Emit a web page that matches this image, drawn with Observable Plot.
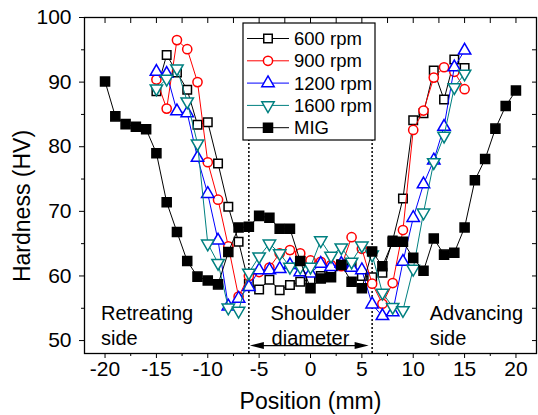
<!DOCTYPE html>
<html><head><meta charset="utf-8">
<script src="https://cdn.jsdelivr.net/npm/d3@7"></script>
<script src="https://cdn.jsdelivr.net/npm/@observablehq/plot@0.6"></script>
<style>
body{margin:0;background:#fff;}
#chart svg{font-family:"Liberation Sans",Arial,sans-serif;}
</style>
</head><body><div id="chart"></div>
<script>
// ---- data ----
const fswPositions = [-15,-14,-13,-12,-11,-10,-9,-8,-7,-6,-5,-4,-3,-2,-1,0,1,2,3,4,5,6,7,8,9,10,11,12,13,14,15];
const rpm600  = [88.6,94.2,91.5,88.8,83.4,83.8,77.4,70.7,65.3,58.8,57.9,59.4,57.8,58.6,59.1,59.5,60.0,60.8,61.8,61.5,60.0,59.8,60.5,65.5,72.0,84.1,85.2,91.8,87.3,93.5,92.2];
const rpm900  = [90.4,85.9,96.5,95.1,90.0,77.6,71.8,64.6,56.8,60.0,60.6,61.3,63.5,64.0,63.5,62.4,62.2,61.7,61.5,66.0,64.2,58.8,55.7,58.9,67.1,82.6,85.6,90.7,92.3,91.6,88.9];
const rpm1200 = [91.6,91.3,85.5,85.2,78.3,72.7,65.5,55.3,56.5,58.3,60.9,60.9,61.1,61.7,60.6,60.4,61.9,61.4,61.9,61.3,60.9,55.6,53.8,54.4,62.2,69.0,74.2,77.9,83.1,92.3,94.9];
const rpm1600 = [89.0,90.5,92.1,87.0,80.5,65.0,62.0,55.1,54.6,60.5,63.0,65.0,63.5,61.4,61.4,61.4,65.5,63.1,64.4,62.2,64.7,63.3,57.4,55.2,54.7,61.1,69.8,77.6,81.7,89.2,91.3];
const migPositions = [-20,-19,-18,-17,-16,-15,-14,-13,-12,-11,-10,-9,-8,-7,-6,-5,-4,-3,-2,-1,0,1,2,3,4,5,6,7,8,9,10,11,12,13,14,15,16,17,18,19,20];
const mig = [90.1,84.7,83.5,83.1,82.7,79.0,71.4,66.8,62.3,59.9,59.3,58.7,63.7,67.5,67.6,69.3,69.0,67.3,67.3,62.3,58.1,59.6,59.8,61.7,59.1,58.1,63.8,61.5,65.3,65.3,62.8,60.8,65.8,63.3,63.6,67.5,74.8,78.1,82.8,86.3,88.7];
const seriesNames = ["600 rpm","900 rpm","1200 rpm","1600 rpm","MIG"];
const shoulderEdges = [-6, 6];
const xTicks = [-20,-15,-10,-5,0,5,10,15,20];
const yTicks = [50,60,70,80,90,100];
const zoneLabels = ["Retreating\nside","Shoulder\ndiameter","Advancing\nside"];
const xLabel = "Position (mm)";
const yLabel = "Hardness (HV)";

// ---- styles ----
const styles = [
  {stroke:"#000000", symbol:"square",   fill:"white", r:4.8, rotate:0},
  {stroke:"#ff0000", symbol:"circle",   fill:"white", r:4.6, rotate:0},
  {stroke:"#0000ff", symbol:"triangle", fill:"white", r:4.6, rotate:0},
  {stroke:"#008080", symbol:"triangle", fill:"white", r:4.6, rotate:180},
  {stroke:"#000000", symbol:"square",   fill:"#000000", r:5.1, rotate:0}
];
const seriesData = [rpm600, rpm900, rpm1200, rpm1600].map((vals, k) =>
  fswPositions.map((x, i) => ({x, y: vals[i], s: seriesNames[k]})));
seriesData.push(migPositions.map((x, i) => ({x, y: mig[i], s: "MIG"})));

const seriesMarks = [];
seriesData.forEach((d, k) => {
  const st = styles[k];
  seriesMarks.push(Plot.line(d, {x:"x", y:"y", stroke: st.stroke, strokeWidth: 1}));
  seriesMarks.push(Plot.dot(d, {x:"x", y:"y", symbol: st.symbol, r: st.r, stroke: st.stroke,
    fill: st.fill, strokeWidth: 1.5, rotate: st.rotate}));
});

const minorX = [];
for (let i = 0; i < xTicks.length - 1; i++) minorX.push((xTicks[i] + xTicks[i+1]) / 2);
const allX = xTicks.concat(minorX);
const minorY = [];
for (let i = 0; i < yTicks.length - 1; i++) minorY.push((yTicks[i] + yTicks[i+1]) / 2);
const allY = yTicks.concat(minorY);

// legend rendered in pixels inside the frame
function legend(index, scales, values, dims) {
  const g = d3.create("svg:g");
  const bx = 243, by = 23, bw = 132, bh = 117;
  g.append("rect").attr("x", bx).attr("y", by).attr("width", bw).attr("height", bh)
    .attr("fill", "white").attr("stroke", "black").attr("stroke-width", 1.2);
  seriesNames.forEach((name, k) => {
    const st = styles[k];
    const cy = 38.5 + k * 22.3;
    g.append("line").attr("x1", 247).attr("x2", 289).attr("y1", cy).attr("y2", cy)
      .attr("stroke", st.stroke).attr("stroke-width", 1);
    const symType = st.symbol === "square" ? d3.symbolSquare : st.symbol === "circle" ? d3.symbolCircle : d3.symbolTriangle;
    g.append("path").attr("d", d3.symbol(symType, Math.PI * st.r * st.r)())
      .attr("transform", `translate(268,${cy}) rotate(${st.rotate})`)
      .attr("fill", st.fill).attr("stroke", st.stroke).attr("stroke-width", 1.5);
    g.append("text").attr("x", 294).attr("y", cy).attr("dy", "0.36em")
      .attr("text-anchor", "start")
      .attr("font-size", 18.5).attr("fill", "black").text(name);
  });
  return g.node();
}

// double-headed arrow between shoulder edges
function shoulderArrow(index, scales) {
  const g = d3.create("svg:g");
  const x1 = scales.x(shoulderEdges[0]) + 1.5, x2 = scales.x(shoulderEdges[1]) - 3;
  const y = scales.y(49.15);
  g.append("line").attr("x1", x1 + 10).attr("x2", x2 - 10).attr("y1", y).attr("y2", y)
    .attr("stroke", "black").attr("stroke-width", 1.3);
  g.append("path").attr("d", `M${x1},${y}L${x1+14},${y-3.5}L${x1+14},${y+3.5}Z`).attr("fill", "black");
  g.append("path").attr("d", `M${x2},${y}L${x2-14},${y-3.5}L${x2-14},${y+3.5}Z`).attr("fill", "black");
  return g.node();
}

// rotated y-axis title placed with pixel layout
function yTitle(index, scales, values, dims) {
  const g = d3.create("svg:g");
  g.append("text").attr("transform", "translate(30,206) rotate(-90)")
    .attr("text-anchor", "middle").attr("font-size", 23).attr("fill", "black").text(yLabel);
  return g.node();
}

const chart = Plot.plot({
  width: 538,
  height: 415,
  marginLeft: 84,
  marginRight: 2,
  marginTop: 17,
  marginBottom: 62,
  style: {fontFamily: "'Liberation Sans', Arial, sans-serif", fontSize: "21px", color: "black", background: "white"},
  x: {domain: [-22, 22]},
  y: {domain: [48, 100]},
  marks: [
    Plot.ruleX(shoulderEdges, {y1: 48, y2: 81, stroke: "black", strokeWidth: 1.5, strokeDasharray: "2,2"}),
    ...seriesMarks,
    legend,
    shoulderArrow,
    Plot.text([zoneLabels[0]], {x: -20.4, y: 55.95, text: d => d, textAnchor: "start", lineAnchor: "top", fontSize: 20, lineHeight: 1.25}),
    Plot.text([zoneLabels[1]], {x: 0, y: 55.95, text: d => d, textAnchor: "middle", lineAnchor: "top", fontSize: 20, lineHeight: 1.25}),
    Plot.text([zoneLabels[2]], {x: 11.6, y: 55.95, text: d => d, textAnchor: "start", lineAnchor: "top", fontSize: 20, lineHeight: 1.25}),
    Plot.axisX({ticks: xTicks, tickSize: 5, tickPadding: 3, label: null, tickFormat: d => d < 0 ? "-" + Math.abs(d) : String(d)}),
    Plot.axisX({ticks: minorX, tickSize: 3, text: null, label: null}),
    Plot.axisX({anchor: "top", ticks: allX, tickSize: -5, text: null, label: null}),
    Plot.axisY({ticks: yTicks, tickSize: 5, tickPadding: 8, label: null}),
    Plot.axisY({ticks: minorY, tickSize: 3, text: null, label: null}),
    Plot.axisY({anchor: "right", ticks: allY, tickSize: -5, text: null, label: null}),
    Plot.frame({stroke: "black", strokeWidth: 1.3}),
    Plot.text([xLabel], {frameAnchor: "bottom", dy: 55, text: d => d, fontSize: 23, lineAnchor: "bottom"}),
    yTitle
  ]
});
document.getElementById("chart").appendChild(chart);
</script>
</body></html>
